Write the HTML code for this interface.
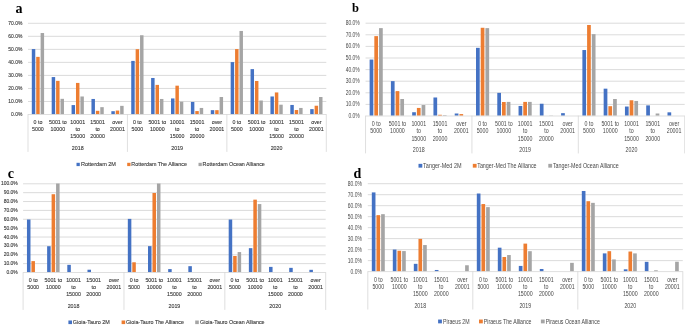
<!DOCTYPE html>
<html><head><meta charset="utf-8"><title>Chart</title>
<style>
html,body{margin:0;padding:0;background:#fff;}
body{width:685px;height:326px;overflow:hidden;}
svg{display:block;will-change:transform;}
.gr{stroke:#D4D4D4;stroke-width:0.85;}
.ax{stroke:#D4D4D4;stroke-width:0.75;}
text{font-family:"Liberation Sans",sans-serif;fill:#3a3a3a;}
.pA text{stroke:#3a3a3a;stroke-width:0.12px;}
.pB text{fill:#484848;}
.tk{font-size:5.3px;text-anchor:end;}
.ct{font-size:5.3px;text-anchor:middle;}
.lg{font-size:5.8px;}
g text.pl{font-family:"Liberation Serif",serif;font-weight:bold;font-size:12.5px;fill:#000;stroke:none;}
</style></head>
<body>
<svg width="685" height="326" viewBox="0 0 685 326">
<rect width="685" height="326" fill="#fff"/>
<g class="pA"><line x1="28" y1="101.47" x2="326.3" y2="101.47" class="gr"/>
<line x1="28" y1="88.44" x2="326.3" y2="88.44" class="gr"/>
<line x1="28" y1="75.41" x2="326.3" y2="75.41" class="gr"/>
<line x1="28" y1="62.39" x2="326.3" y2="62.39" class="gr"/>
<line x1="28" y1="49.36" x2="326.3" y2="49.36" class="gr"/>
<line x1="28" y1="36.33" x2="326.3" y2="36.33" class="gr"/>
<line x1="28" y1="23.3" x2="326.3" y2="23.3" class="gr"/>
<text x="22.4" y="116.1" class="tk" style="font-size:5.3px" textLength="11.35" lengthAdjust="spacingAndGlyphs">0.0%</text>
<text x="22.4" y="103.07" class="tk" style="font-size:5.3px" textLength="14.12" lengthAdjust="spacingAndGlyphs">10.0%</text>
<text x="22.4" y="90.04" class="tk" style="font-size:5.3px" textLength="14.12" lengthAdjust="spacingAndGlyphs">20.0%</text>
<text x="22.4" y="77.01" class="tk" style="font-size:5.3px" textLength="14.12" lengthAdjust="spacingAndGlyphs">30.0%</text>
<text x="22.4" y="63.98" class="tk" style="font-size:5.3px" textLength="14.12" lengthAdjust="spacingAndGlyphs">40.0%</text>
<text x="22.4" y="50.95" class="tk" style="font-size:5.3px" textLength="14.12" lengthAdjust="spacingAndGlyphs">50.0%</text>
<text x="22.4" y="37.93" class="tk" style="font-size:5.3px" textLength="14.12" lengthAdjust="spacingAndGlyphs">60.0%</text>
<text x="22.4" y="24.9" class="tk" style="font-size:5.3px" textLength="14.12" lengthAdjust="spacingAndGlyphs">70.0%</text>
<rect x="31.8" y="49.06" width="3.47" height="65.14" fill="#4472C4"/>
<rect x="36.21" y="56.87" width="3.47" height="57.33" fill="#ED7D31"/>
<rect x="40.62" y="33.03" width="3.47" height="81.17" fill="#A5A5A5"/>
<rect x="51.69" y="77.07" width="3.47" height="37.13" fill="#4472C4"/>
<rect x="56.09" y="80.85" width="3.47" height="33.35" fill="#ED7D31"/>
<rect x="60.5" y="98.83" width="3.47" height="15.37" fill="#A5A5A5"/>
<rect x="71.57" y="105.08" width="3.47" height="9.12" fill="#4472C4"/>
<rect x="75.98" y="82.93" width="3.47" height="31.27" fill="#ED7D31"/>
<rect x="80.39" y="96.48" width="3.47" height="17.72" fill="#A5A5A5"/>
<rect x="91.46" y="98.96" width="3.47" height="15.24" fill="#4472C4"/>
<rect x="95.87" y="110.81" width="3.47" height="3.39" fill="#ED7D31"/>
<rect x="100.28" y="107.16" width="3.47" height="7.04" fill="#A5A5A5"/>
<rect x="111.35" y="111.2" width="3.47" height="3" fill="#4472C4"/>
<rect x="115.75" y="110.55" width="3.47" height="3.65" fill="#ED7D31"/>
<rect x="120.16" y="105.86" width="3.47" height="8.34" fill="#A5A5A5"/>
<rect x="131.23" y="60.91" width="3.47" height="53.29" fill="#4472C4"/>
<rect x="135.64" y="49.19" width="3.47" height="65.01" fill="#ED7D31"/>
<rect x="140.05" y="35.25" width="3.47" height="78.95" fill="#A5A5A5"/>
<rect x="151.12" y="77.98" width="3.47" height="36.22" fill="#4472C4"/>
<rect x="155.53" y="84.89" width="3.47" height="29.31" fill="#ED7D31"/>
<rect x="159.94" y="98.96" width="3.47" height="15.24" fill="#A5A5A5"/>
<rect x="171.01" y="98.44" width="3.47" height="15.76" fill="#4472C4"/>
<rect x="175.41" y="85.67" width="3.47" height="28.53" fill="#ED7D31"/>
<rect x="179.82" y="101.69" width="3.47" height="12.51" fill="#A5A5A5"/>
<rect x="190.89" y="101.95" width="3.47" height="12.25" fill="#4472C4"/>
<rect x="195.3" y="111.07" width="3.47" height="3.13" fill="#ED7D31"/>
<rect x="199.71" y="107.95" width="3.47" height="6.25" fill="#A5A5A5"/>
<rect x="210.78" y="110.16" width="3.47" height="4.04" fill="#4472C4"/>
<rect x="215.19" y="110.16" width="3.47" height="4.04" fill="#ED7D31"/>
<rect x="219.6" y="97" width="3.47" height="17.2" fill="#A5A5A5"/>
<rect x="230.67" y="62.09" width="3.47" height="52.11" fill="#4472C4"/>
<rect x="235.07" y="49.06" width="3.47" height="65.14" fill="#ED7D31"/>
<rect x="239.48" y="30.95" width="3.47" height="83.25" fill="#A5A5A5"/>
<rect x="250.55" y="69.12" width="3.47" height="45.08" fill="#4472C4"/>
<rect x="254.96" y="80.98" width="3.47" height="33.22" fill="#ED7D31"/>
<rect x="259.37" y="100.52" width="3.47" height="13.68" fill="#A5A5A5"/>
<rect x="270.44" y="96.48" width="3.47" height="17.72" fill="#4472C4"/>
<rect x="274.85" y="92.44" width="3.47" height="21.76" fill="#ED7D31"/>
<rect x="279.26" y="104.69" width="3.47" height="9.51" fill="#A5A5A5"/>
<rect x="290.33" y="104.95" width="3.47" height="9.25" fill="#4472C4"/>
<rect x="294.73" y="110.03" width="3.47" height="4.17" fill="#ED7D31"/>
<rect x="299.14" y="107.95" width="3.47" height="6.25" fill="#A5A5A5"/>
<rect x="310.21" y="109.12" width="3.47" height="5.08" fill="#4472C4"/>
<rect x="314.62" y="105.73" width="3.47" height="8.47" fill="#ED7D31"/>
<rect x="319.03" y="97" width="3.47" height="17.2" fill="#A5A5A5"/>
<line x1="28" y1="114.5" x2="326.3" y2="114.5" class="ax"/>
<line x1="28" y1="114.2" x2="28" y2="151.9" class="ax"/>
<line x1="127.43" y1="114.2" x2="127.43" y2="151.9" class="ax"/>
<line x1="226.87" y1="114.2" x2="226.87" y2="151.9" class="ax"/>
<line x1="326.3" y1="114.2" x2="326.3" y2="151.9" class="ax"/>
<text x="37.94" y="124.1" class="ct">0 to</text>
<text x="37.94" y="130.8" class="ct">5000</text>
<text x="57.83" y="124.1" class="ct">5001 to</text>
<text x="57.83" y="130.8" class="ct">10000</text>
<text x="77.72" y="124.1" class="ct">10001</text>
<text x="77.72" y="130.8" class="ct">to</text>
<text x="77.72" y="137.6" class="ct">15000</text>
<text x="97.6" y="124.1" class="ct">15001</text>
<text x="97.6" y="130.8" class="ct">to</text>
<text x="97.6" y="137.6" class="ct">20000</text>
<text x="117.49" y="124.1" class="ct">over</text>
<text x="117.49" y="130.8" class="ct">20001</text>
<text x="137.38" y="124.1" class="ct">0 to</text>
<text x="137.38" y="130.8" class="ct">5000</text>
<text x="157.26" y="124.1" class="ct">5001 to</text>
<text x="157.26" y="130.8" class="ct">10000</text>
<text x="177.15" y="124.1" class="ct">10001</text>
<text x="177.15" y="130.8" class="ct">to</text>
<text x="177.15" y="137.6" class="ct">15000</text>
<text x="197.04" y="124.1" class="ct">15001</text>
<text x="197.04" y="130.8" class="ct">to</text>
<text x="197.04" y="137.6" class="ct">20000</text>
<text x="216.92" y="124.1" class="ct">over</text>
<text x="216.92" y="130.8" class="ct">20001</text>
<text x="236.81" y="124.1" class="ct">0 to</text>
<text x="236.81" y="130.8" class="ct">5000</text>
<text x="256.7" y="124.1" class="ct">5001 to</text>
<text x="256.7" y="130.8" class="ct">10000</text>
<text x="276.58" y="124.1" class="ct">10001</text>
<text x="276.58" y="130.8" class="ct">to</text>
<text x="276.58" y="137.6" class="ct">15000</text>
<text x="296.47" y="124.1" class="ct">15001</text>
<text x="296.47" y="130.8" class="ct">to</text>
<text x="296.47" y="137.6" class="ct">20000</text>
<text x="316.36" y="124.1" class="ct">over</text>
<text x="316.36" y="130.8" class="ct">20001</text>
<text x="77.72" y="149.8" class="ct">2018</text>
<text x="177.15" y="149.8" class="ct">2019</text>
<text x="276.58" y="149.8" class="ct">2020</text>
<rect x="76.5" y="162.8" width="3.3" height="3.3" fill="#4472C4"/>
<text x="80.9" y="166.08" class="lg" style="font-size:5.8px" textLength="35.1" lengthAdjust="spacingAndGlyphs">Rotterdam 2M</text>
<rect x="127.2" y="162.8" width="3.3" height="3.3" fill="#ED7D31"/>
<text x="131.3" y="166.08" class="lg" style="font-size:5.8px" textLength="55.7" lengthAdjust="spacingAndGlyphs">Rotterdam The Alliance</text>
<rect x="198.5" y="162.8" width="3.3" height="3.3" fill="#A5A5A5"/>
<text x="202.6" y="166.08" class="lg" style="font-size:5.8px" textLength="62.2" lengthAdjust="spacingAndGlyphs">Rotterdam Ocean Alliance</text>
<text x="15.5" y="12.5" class="pl" style="font-size:14px">a</text></g>
<g class="pB"><line x1="365.55" y1="104.4" x2="684.7" y2="104.4" class="gr"/>
<line x1="365.55" y1="92.8" x2="684.7" y2="92.8" class="gr"/>
<line x1="365.55" y1="81.2" x2="684.7" y2="81.2" class="gr"/>
<line x1="365.55" y1="69.6" x2="684.7" y2="69.6" class="gr"/>
<line x1="365.55" y1="58" x2="684.7" y2="58" class="gr"/>
<line x1="365.55" y1="46.4" x2="684.7" y2="46.4" class="gr"/>
<line x1="365.55" y1="34.8" x2="684.7" y2="34.8" class="gr"/>
<line x1="365.55" y1="23.2" x2="684.7" y2="23.2" class="gr"/>
<text x="359.8" y="117.99" class="tk" style="font-size:6.4px" textLength="11.35" lengthAdjust="spacingAndGlyphs">0.0%</text>
<text x="359.8" y="106.39" class="tk" style="font-size:6.4px" textLength="14.12" lengthAdjust="spacingAndGlyphs">10.0%</text>
<text x="359.8" y="94.79" class="tk" style="font-size:6.4px" textLength="14.12" lengthAdjust="spacingAndGlyphs">20.0%</text>
<text x="359.8" y="83.19" class="tk" style="font-size:6.4px" textLength="14.12" lengthAdjust="spacingAndGlyphs">30.0%</text>
<text x="359.8" y="71.59" class="tk" style="font-size:6.4px" textLength="14.12" lengthAdjust="spacingAndGlyphs">40.0%</text>
<text x="359.8" y="59.99" class="tk" style="font-size:6.4px" textLength="14.12" lengthAdjust="spacingAndGlyphs">50.0%</text>
<text x="359.8" y="48.39" class="tk" style="font-size:6.4px" textLength="14.12" lengthAdjust="spacingAndGlyphs">60.0%</text>
<text x="359.8" y="36.79" class="tk" style="font-size:6.4px" textLength="14.12" lengthAdjust="spacingAndGlyphs">70.0%</text>
<text x="359.8" y="25.19" class="tk" style="font-size:6.4px" textLength="14.12" lengthAdjust="spacingAndGlyphs">80.0%</text>
<rect x="369.62" y="59.56" width="3.71" height="56.14" fill="#4472C4"/>
<rect x="374.33" y="36.12" width="3.71" height="79.58" fill="#ED7D31"/>
<rect x="379.05" y="28.12" width="3.71" height="87.58" fill="#A5A5A5"/>
<rect x="390.89" y="81.13" width="3.71" height="34.57" fill="#4472C4"/>
<rect x="395.61" y="91.11" width="3.71" height="24.59" fill="#ED7D31"/>
<rect x="400.32" y="99" width="3.71" height="16.7" fill="#A5A5A5"/>
<rect x="412.17" y="112.22" width="3.71" height="3.48" fill="#4472C4"/>
<rect x="416.89" y="107.93" width="3.71" height="7.77" fill="#ED7D31"/>
<rect x="421.6" y="105.03" width="3.71" height="10.67" fill="#A5A5A5"/>
<rect x="433.45" y="97.49" width="3.71" height="18.21" fill="#4472C4"/>
<rect x="438.16" y="114.77" width="3.71" height="0.93" fill="#ED7D31"/>
<rect x="442.88" y="115.12" width="3.71" height="0.58" fill="#A5A5A5"/>
<rect x="454.72" y="113.5" width="3.71" height="2.2" fill="#4472C4"/>
<rect x="459.44" y="114.08" width="3.71" height="1.62" fill="#ED7D31"/>
<rect x="476" y="47.84" width="3.71" height="67.86" fill="#4472C4"/>
<rect x="480.72" y="27.77" width="3.71" height="87.93" fill="#ED7D31"/>
<rect x="485.43" y="28.12" width="3.71" height="87.58" fill="#A5A5A5"/>
<rect x="497.28" y="92.85" width="3.71" height="22.85" fill="#4472C4"/>
<rect x="501.99" y="102.01" width="3.71" height="13.69" fill="#ED7D31"/>
<rect x="506.71" y="101.9" width="3.71" height="13.8" fill="#A5A5A5"/>
<rect x="518.55" y="105.96" width="3.71" height="9.74" fill="#4472C4"/>
<rect x="523.27" y="101.9" width="3.71" height="13.8" fill="#ED7D31"/>
<rect x="527.98" y="101.9" width="3.71" height="13.8" fill="#A5A5A5"/>
<rect x="539.83" y="103.75" width="3.71" height="11.95" fill="#4472C4"/>
<rect x="549.26" y="115.47" width="3.71" height="0.23" fill="#A5A5A5"/>
<rect x="561.11" y="113.15" width="3.71" height="2.55" fill="#4472C4"/>
<rect x="582.38" y="50.04" width="3.71" height="65.66" fill="#4472C4"/>
<rect x="587.1" y="24.99" width="3.71" height="90.71" fill="#ED7D31"/>
<rect x="591.81" y="34.15" width="3.71" height="81.55" fill="#A5A5A5"/>
<rect x="603.66" y="88.67" width="3.71" height="27.03" fill="#4472C4"/>
<rect x="608.38" y="106.19" width="3.71" height="9.51" fill="#ED7D31"/>
<rect x="613.09" y="99" width="3.71" height="16.7" fill="#A5A5A5"/>
<rect x="624.94" y="106.54" width="3.71" height="9.16" fill="#4472C4"/>
<rect x="629.65" y="100.27" width="3.71" height="15.43" fill="#ED7D31"/>
<rect x="634.37" y="100.97" width="3.71" height="14.73" fill="#A5A5A5"/>
<rect x="646.21" y="105.38" width="3.71" height="10.32" fill="#4472C4"/>
<rect x="655.64" y="113.5" width="3.71" height="2.2" fill="#A5A5A5"/>
<rect x="667.49" y="112.34" width="3.71" height="3.36" fill="#4472C4"/>
<line x1="365.55" y1="116" x2="684.7" y2="116" class="ax"/>
<line x1="365.55" y1="115.7" x2="365.55" y2="153.4" class="ax"/>
<line x1="471.93" y1="115.7" x2="471.93" y2="153.4" class="ax"/>
<line x1="578.32" y1="115.7" x2="578.32" y2="153.4" class="ax"/>
<line x1="684.7" y1="115.7" x2="684.7" y2="153.4" class="ax"/>
<text x="376.19" y="125.59" class="ct" style="font-size:6.4px" textLength="8.84" lengthAdjust="spacingAndGlyphs">0 to</text>
<text x="376.19" y="132.99" class="ct" style="font-size:6.4px" textLength="11.79" lengthAdjust="spacingAndGlyphs">5000</text>
<text x="397.47" y="125.59" class="ct" style="font-size:6.4px" textLength="17.68" lengthAdjust="spacingAndGlyphs">5001 to</text>
<text x="397.47" y="132.99" class="ct" style="font-size:6.4px" textLength="14.73" lengthAdjust="spacingAndGlyphs">10000</text>
<text x="418.74" y="125.59" class="ct" style="font-size:6.4px" textLength="14.73" lengthAdjust="spacingAndGlyphs">10001</text>
<text x="418.74" y="132.99" class="ct" style="font-size:6.4px" textLength="4.42" lengthAdjust="spacingAndGlyphs">to</text>
<text x="418.74" y="140.59" class="ct" style="font-size:6.4px" textLength="14.73" lengthAdjust="spacingAndGlyphs">15000</text>
<text x="440.02" y="125.59" class="ct" style="font-size:6.4px" textLength="14.73" lengthAdjust="spacingAndGlyphs">15001</text>
<text x="440.02" y="132.99" class="ct" style="font-size:6.4px" textLength="4.42" lengthAdjust="spacingAndGlyphs">to</text>
<text x="440.02" y="140.59" class="ct" style="font-size:6.4px" textLength="14.73" lengthAdjust="spacingAndGlyphs">20000</text>
<text x="461.3" y="125.59" class="ct" style="font-size:6.4px" textLength="10.31" lengthAdjust="spacingAndGlyphs">over</text>
<text x="461.3" y="132.99" class="ct" style="font-size:6.4px" textLength="14.73" lengthAdjust="spacingAndGlyphs">20001</text>
<text x="482.57" y="125.59" class="ct" style="font-size:6.4px" textLength="8.84" lengthAdjust="spacingAndGlyphs">0 to</text>
<text x="482.57" y="132.99" class="ct" style="font-size:6.4px" textLength="11.79" lengthAdjust="spacingAndGlyphs">5000</text>
<text x="503.85" y="125.59" class="ct" style="font-size:6.4px" textLength="17.68" lengthAdjust="spacingAndGlyphs">5001 to</text>
<text x="503.85" y="132.99" class="ct" style="font-size:6.4px" textLength="14.73" lengthAdjust="spacingAndGlyphs">10000</text>
<text x="525.12" y="125.59" class="ct" style="font-size:6.4px" textLength="14.73" lengthAdjust="spacingAndGlyphs">10001</text>
<text x="525.12" y="132.99" class="ct" style="font-size:6.4px" textLength="4.42" lengthAdjust="spacingAndGlyphs">to</text>
<text x="525.12" y="140.59" class="ct" style="font-size:6.4px" textLength="14.73" lengthAdjust="spacingAndGlyphs">15000</text>
<text x="546.4" y="125.59" class="ct" style="font-size:6.4px" textLength="14.73" lengthAdjust="spacingAndGlyphs">15001</text>
<text x="546.4" y="132.99" class="ct" style="font-size:6.4px" textLength="4.42" lengthAdjust="spacingAndGlyphs">to</text>
<text x="546.4" y="140.59" class="ct" style="font-size:6.4px" textLength="14.73" lengthAdjust="spacingAndGlyphs">20000</text>
<text x="567.68" y="125.59" class="ct" style="font-size:6.4px" textLength="10.31" lengthAdjust="spacingAndGlyphs">over</text>
<text x="567.68" y="132.99" class="ct" style="font-size:6.4px" textLength="14.73" lengthAdjust="spacingAndGlyphs">20001</text>
<text x="588.96" y="125.59" class="ct" style="font-size:6.4px" textLength="8.84" lengthAdjust="spacingAndGlyphs">0 to</text>
<text x="588.96" y="132.99" class="ct" style="font-size:6.4px" textLength="11.79" lengthAdjust="spacingAndGlyphs">5000</text>
<text x="610.23" y="125.59" class="ct" style="font-size:6.4px" textLength="17.68" lengthAdjust="spacingAndGlyphs">5001 to</text>
<text x="610.23" y="132.99" class="ct" style="font-size:6.4px" textLength="14.73" lengthAdjust="spacingAndGlyphs">10000</text>
<text x="631.51" y="125.59" class="ct" style="font-size:6.4px" textLength="14.73" lengthAdjust="spacingAndGlyphs">10001</text>
<text x="631.51" y="132.99" class="ct" style="font-size:6.4px" textLength="4.42" lengthAdjust="spacingAndGlyphs">to</text>
<text x="631.51" y="140.59" class="ct" style="font-size:6.4px" textLength="14.73" lengthAdjust="spacingAndGlyphs">15000</text>
<text x="652.79" y="125.59" class="ct" style="font-size:6.4px" textLength="14.73" lengthAdjust="spacingAndGlyphs">15001</text>
<text x="652.79" y="132.99" class="ct" style="font-size:6.4px" textLength="4.42" lengthAdjust="spacingAndGlyphs">to</text>
<text x="652.79" y="140.59" class="ct" style="font-size:6.4px" textLength="14.73" lengthAdjust="spacingAndGlyphs">20000</text>
<text x="674.06" y="125.59" class="ct" style="font-size:6.4px" textLength="10.31" lengthAdjust="spacingAndGlyphs">over</text>
<text x="674.06" y="132.99" class="ct" style="font-size:6.4px" textLength="14.73" lengthAdjust="spacingAndGlyphs">20001</text>
<text x="418.74" y="151.59" class="ct" style="font-size:6.4px" textLength="11.79" lengthAdjust="spacingAndGlyphs">2018</text>
<text x="525.12" y="151.59" class="ct" style="font-size:6.4px" textLength="11.79" lengthAdjust="spacingAndGlyphs">2019</text>
<text x="631.51" y="151.59" class="ct" style="font-size:6.4px" textLength="11.79" lengthAdjust="spacingAndGlyphs">2020</text>
<rect x="418.5" y="163.85" width="3.8" height="3.8" fill="#4472C4"/>
<text x="423.1" y="167.89" class="lg" style="font-size:6.4px" textLength="38.5" lengthAdjust="spacingAndGlyphs">Tanger-Med 2M</text>
<rect x="472.8" y="163.85" width="3.8" height="3.8" fill="#ED7D31"/>
<text x="477.2" y="167.89" class="lg" style="font-size:6.4px" textLength="59.4" lengthAdjust="spacingAndGlyphs">Tanger-Med The Alliance</text>
<rect x="548.3" y="163.85" width="3.8" height="3.8" fill="#A5A5A5"/>
<text x="552.9" y="167.89" class="lg" style="font-size:6.4px" textLength="65.8" lengthAdjust="spacingAndGlyphs">Tanger-Med Ocean Alliance</text>
<text x="351.9" y="11.7" class="pl" style="font-size:12.5px">b</text></g>
<g class="pA"><line x1="23.1" y1="263.63" x2="325.7" y2="263.63" class="gr"/>
<line x1="23.1" y1="254.76" x2="325.7" y2="254.76" class="gr"/>
<line x1="23.1" y1="245.89" x2="325.7" y2="245.89" class="gr"/>
<line x1="23.1" y1="237.02" x2="325.7" y2="237.02" class="gr"/>
<line x1="23.1" y1="228.15" x2="325.7" y2="228.15" class="gr"/>
<line x1="23.1" y1="219.28" x2="325.7" y2="219.28" class="gr"/>
<line x1="23.1" y1="210.41" x2="325.7" y2="210.41" class="gr"/>
<line x1="23.1" y1="201.54" x2="325.7" y2="201.54" class="gr"/>
<line x1="23.1" y1="192.67" x2="325.7" y2="192.67" class="gr"/>
<line x1="23.1" y1="183.8" x2="325.7" y2="183.8" class="gr"/>
<text x="17.8" y="274.1" class="tk" style="font-size:5.3px" textLength="11.35" lengthAdjust="spacingAndGlyphs">0.0%</text>
<text x="17.8" y="265.23" class="tk" style="font-size:5.3px" textLength="14.12" lengthAdjust="spacingAndGlyphs">10.0%</text>
<text x="17.8" y="256.36" class="tk" style="font-size:5.3px" textLength="14.12" lengthAdjust="spacingAndGlyphs">20.0%</text>
<text x="17.8" y="247.49" class="tk" style="font-size:5.3px" textLength="14.12" lengthAdjust="spacingAndGlyphs">30.0%</text>
<text x="17.8" y="238.62" class="tk" style="font-size:5.3px" textLength="14.12" lengthAdjust="spacingAndGlyphs">40.0%</text>
<text x="17.8" y="229.75" class="tk" style="font-size:5.3px" textLength="14.12" lengthAdjust="spacingAndGlyphs">50.0%</text>
<text x="17.8" y="220.88" class="tk" style="font-size:5.3px" textLength="14.12" lengthAdjust="spacingAndGlyphs">60.0%</text>
<text x="17.8" y="212.01" class="tk" style="font-size:5.3px" textLength="14.12" lengthAdjust="spacingAndGlyphs">70.0%</text>
<text x="17.8" y="203.14" class="tk" style="font-size:5.3px" textLength="14.12" lengthAdjust="spacingAndGlyphs">80.0%</text>
<text x="17.8" y="194.27" class="tk" style="font-size:5.3px" textLength="14.12" lengthAdjust="spacingAndGlyphs">90.0%</text>
<text x="17.8" y="185.4" class="tk" style="font-size:5.3px" textLength="16.89" lengthAdjust="spacingAndGlyphs">100.0%</text>
<rect x="26.96" y="219.51" width="3.52" height="52.69" fill="#4472C4"/>
<rect x="31.43" y="261.11" width="3.52" height="11.09" fill="#ED7D31"/>
<rect x="47.13" y="246.21" width="3.52" height="25.99" fill="#4472C4"/>
<rect x="51.6" y="194.23" width="3.52" height="77.97" fill="#ED7D31"/>
<rect x="56.07" y="183.5" width="3.52" height="88.7" fill="#A5A5A5"/>
<rect x="67.3" y="264.84" width="3.52" height="7.36" fill="#4472C4"/>
<rect x="87.48" y="269.72" width="3.52" height="2.48" fill="#4472C4"/>
<rect x="127.82" y="218.89" width="3.52" height="53.31" fill="#4472C4"/>
<rect x="132.29" y="262.27" width="3.52" height="9.93" fill="#ED7D31"/>
<rect x="148" y="246.12" width="3.52" height="26.08" fill="#4472C4"/>
<rect x="152.47" y="192.99" width="3.52" height="79.21" fill="#ED7D31"/>
<rect x="156.94" y="183.5" width="3.52" height="88.7" fill="#A5A5A5"/>
<rect x="168.17" y="269.1" width="3.52" height="3.1" fill="#4472C4"/>
<rect x="188.34" y="266.17" width="3.52" height="6.03" fill="#4472C4"/>
<rect x="228.69" y="219.51" width="3.52" height="52.69" fill="#4472C4"/>
<rect x="233.16" y="255.97" width="3.52" height="16.23" fill="#ED7D31"/>
<rect x="237.63" y="252.07" width="3.52" height="20.13" fill="#A5A5A5"/>
<rect x="248.86" y="248.16" width="3.52" height="24.04" fill="#4472C4"/>
<rect x="253.33" y="199.64" width="3.52" height="72.56" fill="#ED7D31"/>
<rect x="257.8" y="204.08" width="3.52" height="68.12" fill="#A5A5A5"/>
<rect x="269.04" y="266.88" width="3.52" height="5.32" fill="#4472C4"/>
<rect x="289.21" y="267.85" width="3.52" height="4.35" fill="#4472C4"/>
<rect x="309.38" y="269.81" width="3.52" height="2.39" fill="#4472C4"/>
<line x1="23.1" y1="272.5" x2="325.7" y2="272.5" class="ax"/>
<line x1="23.1" y1="272.2" x2="23.1" y2="309.9" class="ax"/>
<line x1="123.97" y1="272.2" x2="123.97" y2="309.9" class="ax"/>
<line x1="224.83" y1="272.2" x2="224.83" y2="309.9" class="ax"/>
<line x1="325.7" y1="272.2" x2="325.7" y2="309.9" class="ax"/>
<text x="33.19" y="282" class="ct">0 to</text>
<text x="33.19" y="289" class="ct">5000</text>
<text x="53.36" y="282" class="ct">5001 to</text>
<text x="53.36" y="289" class="ct">10000</text>
<text x="73.53" y="282" class="ct">10001</text>
<text x="73.53" y="289" class="ct">to</text>
<text x="73.53" y="296.1" class="ct">15000</text>
<text x="93.71" y="282" class="ct">15001</text>
<text x="93.71" y="289" class="ct">to</text>
<text x="93.71" y="296.1" class="ct">20000</text>
<text x="113.88" y="282" class="ct">over</text>
<text x="113.88" y="289" class="ct">20001</text>
<text x="134.05" y="282" class="ct">0 to</text>
<text x="134.05" y="289" class="ct">5000</text>
<text x="154.23" y="282" class="ct">5001 to</text>
<text x="154.23" y="289" class="ct">10000</text>
<text x="174.4" y="282" class="ct">10001</text>
<text x="174.4" y="289" class="ct">to</text>
<text x="174.4" y="296.1" class="ct">15000</text>
<text x="194.57" y="282" class="ct">15001</text>
<text x="194.57" y="289" class="ct">to</text>
<text x="194.57" y="296.1" class="ct">20000</text>
<text x="214.75" y="282" class="ct">over</text>
<text x="214.75" y="289" class="ct">20001</text>
<text x="234.92" y="282" class="ct">0 to</text>
<text x="234.92" y="289" class="ct">5000</text>
<text x="255.09" y="282" class="ct">5001 to</text>
<text x="255.09" y="289" class="ct">10000</text>
<text x="275.27" y="282" class="ct">10001</text>
<text x="275.27" y="289" class="ct">to</text>
<text x="275.27" y="296.1" class="ct">15000</text>
<text x="295.44" y="282" class="ct">15001</text>
<text x="295.44" y="289" class="ct">to</text>
<text x="295.44" y="296.1" class="ct">20000</text>
<text x="315.61" y="282" class="ct">over</text>
<text x="315.61" y="289" class="ct">20001</text>
<text x="73.53" y="308" class="ct">2018</text>
<text x="174.4" y="308" class="ct">2019</text>
<text x="275.27" y="308" class="ct">2020</text>
<rect x="68.4" y="320.5" width="3.6" height="3.6" fill="#4472C4"/>
<text x="72.8" y="323.98" class="lg" style="font-size:5.8px" textLength="37" lengthAdjust="spacingAndGlyphs">Gioia-Tauro 2M</text>
<rect x="121.6" y="320.5" width="3.6" height="3.6" fill="#ED7D31"/>
<text x="125.9" y="323.98" class="lg" style="font-size:5.8px" textLength="58.1" lengthAdjust="spacingAndGlyphs">Gioia-Tauro The Alliance</text>
<rect x="195.2" y="320.5" width="3.6" height="3.6" fill="#A5A5A5"/>
<text x="200.1" y="323.98" class="lg" style="font-size:5.8px" textLength="64.4" lengthAdjust="spacingAndGlyphs">Gioia-Tauro Ocean Alliance</text>
<text x="7.7" y="177.6" class="pl" style="font-size:14px">c</text></g>
<g class="pB"><line x1="367.8" y1="260.61" x2="682.8" y2="260.61" class="gr"/>
<line x1="367.8" y1="249.63" x2="682.8" y2="249.63" class="gr"/>
<line x1="367.8" y1="238.64" x2="682.8" y2="238.64" class="gr"/>
<line x1="367.8" y1="227.65" x2="682.8" y2="227.65" class="gr"/>
<line x1="367.8" y1="216.66" x2="682.8" y2="216.66" class="gr"/>
<line x1="367.8" y1="205.68" x2="682.8" y2="205.68" class="gr"/>
<line x1="367.8" y1="194.69" x2="682.8" y2="194.69" class="gr"/>
<line x1="367.8" y1="183.7" x2="682.8" y2="183.7" class="gr"/>
<text x="361.9" y="273.59" class="tk" style="font-size:6.4px" textLength="11.35" lengthAdjust="spacingAndGlyphs">0.0%</text>
<text x="361.9" y="262.6" class="tk" style="font-size:6.4px" textLength="14.12" lengthAdjust="spacingAndGlyphs">10.0%</text>
<text x="361.9" y="251.62" class="tk" style="font-size:6.4px" textLength="14.12" lengthAdjust="spacingAndGlyphs">20.0%</text>
<text x="361.9" y="240.63" class="tk" style="font-size:6.4px" textLength="14.12" lengthAdjust="spacingAndGlyphs">30.0%</text>
<text x="361.9" y="229.64" class="tk" style="font-size:6.4px" textLength="14.12" lengthAdjust="spacingAndGlyphs">40.0%</text>
<text x="361.9" y="218.65" class="tk" style="font-size:6.4px" textLength="14.12" lengthAdjust="spacingAndGlyphs">50.0%</text>
<text x="361.9" y="207.67" class="tk" style="font-size:6.4px" textLength="14.12" lengthAdjust="spacingAndGlyphs">60.0%</text>
<text x="361.9" y="196.68" class="tk" style="font-size:6.4px" textLength="14.12" lengthAdjust="spacingAndGlyphs">70.0%</text>
<text x="361.9" y="185.69" class="tk" style="font-size:6.4px" textLength="14.12" lengthAdjust="spacingAndGlyphs">80.0%</text>
<rect x="371.81" y="192.41" width="3.66" height="78.89" fill="#4472C4"/>
<rect x="376.47" y="215.15" width="3.66" height="56.15" fill="#ED7D31"/>
<rect x="381.12" y="214.17" width="3.66" height="57.14" fill="#A5A5A5"/>
<rect x="392.81" y="249.54" width="3.66" height="21.76" fill="#4472C4"/>
<rect x="397.47" y="250.75" width="3.66" height="20.55" fill="#ED7D31"/>
<rect x="402.12" y="251.08" width="3.66" height="20.22" fill="#A5A5A5"/>
<rect x="413.81" y="263.83" width="3.66" height="7.47" fill="#4472C4"/>
<rect x="418.47" y="238.89" width="3.66" height="32.41" fill="#ED7D31"/>
<rect x="423.12" y="245.04" width="3.66" height="26.26" fill="#A5A5A5"/>
<rect x="434.81" y="269.98" width="3.66" height="1.32" fill="#4472C4"/>
<rect x="465.12" y="265.26" width="3.66" height="6.04" fill="#A5A5A5"/>
<rect x="476.81" y="193.51" width="3.66" height="77.79" fill="#4472C4"/>
<rect x="481.47" y="204.06" width="3.66" height="67.24" fill="#ED7D31"/>
<rect x="486.12" y="207.13" width="3.66" height="64.17" fill="#A5A5A5"/>
<rect x="497.81" y="247.68" width="3.66" height="23.62" fill="#4472C4"/>
<rect x="502.47" y="257.02" width="3.66" height="14.28" fill="#ED7D31"/>
<rect x="507.12" y="255.04" width="3.66" height="16.26" fill="#A5A5A5"/>
<rect x="518.81" y="265.92" width="3.66" height="5.38" fill="#4472C4"/>
<rect x="523.47" y="243.61" width="3.66" height="27.69" fill="#ED7D31"/>
<rect x="528.12" y="251.19" width="3.66" height="20.11" fill="#A5A5A5"/>
<rect x="539.81" y="268.99" width="3.66" height="2.31" fill="#4472C4"/>
<rect x="570.12" y="262.84" width="3.66" height="8.46" fill="#A5A5A5"/>
<rect x="581.81" y="190.98" width="3.66" height="80.32" fill="#4472C4"/>
<rect x="586.47" y="201.2" width="3.66" height="70.1" fill="#ED7D31"/>
<rect x="591.12" y="202.85" width="3.66" height="68.45" fill="#A5A5A5"/>
<rect x="602.81" y="253.39" width="3.66" height="17.91" fill="#4472C4"/>
<rect x="607.47" y="251.19" width="3.66" height="20.11" fill="#ED7D31"/>
<rect x="612.12" y="259.43" width="3.66" height="11.87" fill="#A5A5A5"/>
<rect x="623.81" y="269.32" width="3.66" height="1.98" fill="#4472C4"/>
<rect x="628.47" y="251.52" width="3.66" height="19.78" fill="#ED7D31"/>
<rect x="633.12" y="253.39" width="3.66" height="17.91" fill="#A5A5A5"/>
<rect x="644.81" y="261.85" width="3.66" height="9.45" fill="#4472C4"/>
<rect x="654.12" y="270.31" width="3.66" height="0.99" fill="#A5A5A5"/>
<rect x="675.12" y="261.74" width="3.66" height="9.56" fill="#A5A5A5"/>
<line x1="367.8" y1="271.6" x2="682.8" y2="271.6" class="ax"/>
<line x1="367.8" y1="271.3" x2="367.8" y2="309.5" class="ax"/>
<line x1="472.8" y1="271.3" x2="472.8" y2="309.5" class="ax"/>
<line x1="577.8" y1="271.3" x2="577.8" y2="309.5" class="ax"/>
<line x1="682.8" y1="271.3" x2="682.8" y2="309.5" class="ax"/>
<text x="378.3" y="281.79" class="ct" style="font-size:6.4px" textLength="8.84" lengthAdjust="spacingAndGlyphs">0 to</text>
<text x="378.3" y="288.99" class="ct" style="font-size:6.4px" textLength="11.79" lengthAdjust="spacingAndGlyphs">5000</text>
<text x="399.3" y="281.79" class="ct" style="font-size:6.4px" textLength="17.68" lengthAdjust="spacingAndGlyphs">5001 to</text>
<text x="399.3" y="288.99" class="ct" style="font-size:6.4px" textLength="14.73" lengthAdjust="spacingAndGlyphs">10000</text>
<text x="420.3" y="281.79" class="ct" style="font-size:6.4px" textLength="14.73" lengthAdjust="spacingAndGlyphs">10001</text>
<text x="420.3" y="288.99" class="ct" style="font-size:6.4px" textLength="4.42" lengthAdjust="spacingAndGlyphs">to</text>
<text x="420.3" y="295.99" class="ct" style="font-size:6.4px" textLength="14.73" lengthAdjust="spacingAndGlyphs">15000</text>
<text x="441.3" y="281.79" class="ct" style="font-size:6.4px" textLength="14.73" lengthAdjust="spacingAndGlyphs">15001</text>
<text x="441.3" y="288.99" class="ct" style="font-size:6.4px" textLength="4.42" lengthAdjust="spacingAndGlyphs">to</text>
<text x="441.3" y="295.99" class="ct" style="font-size:6.4px" textLength="14.73" lengthAdjust="spacingAndGlyphs">20000</text>
<text x="462.3" y="281.79" class="ct" style="font-size:6.4px" textLength="10.31" lengthAdjust="spacingAndGlyphs">over</text>
<text x="462.3" y="288.99" class="ct" style="font-size:6.4px" textLength="14.73" lengthAdjust="spacingAndGlyphs">20001</text>
<text x="483.3" y="281.79" class="ct" style="font-size:6.4px" textLength="8.84" lengthAdjust="spacingAndGlyphs">0 to</text>
<text x="483.3" y="288.99" class="ct" style="font-size:6.4px" textLength="11.79" lengthAdjust="spacingAndGlyphs">5000</text>
<text x="504.3" y="281.79" class="ct" style="font-size:6.4px" textLength="17.68" lengthAdjust="spacingAndGlyphs">5001 to</text>
<text x="504.3" y="288.99" class="ct" style="font-size:6.4px" textLength="14.73" lengthAdjust="spacingAndGlyphs">10000</text>
<text x="525.3" y="281.79" class="ct" style="font-size:6.4px" textLength="14.73" lengthAdjust="spacingAndGlyphs">10001</text>
<text x="525.3" y="288.99" class="ct" style="font-size:6.4px" textLength="4.42" lengthAdjust="spacingAndGlyphs">to</text>
<text x="525.3" y="295.99" class="ct" style="font-size:6.4px" textLength="14.73" lengthAdjust="spacingAndGlyphs">15000</text>
<text x="546.3" y="281.79" class="ct" style="font-size:6.4px" textLength="14.73" lengthAdjust="spacingAndGlyphs">15001</text>
<text x="546.3" y="288.99" class="ct" style="font-size:6.4px" textLength="4.42" lengthAdjust="spacingAndGlyphs">to</text>
<text x="546.3" y="295.99" class="ct" style="font-size:6.4px" textLength="14.73" lengthAdjust="spacingAndGlyphs">20000</text>
<text x="567.3" y="281.79" class="ct" style="font-size:6.4px" textLength="10.31" lengthAdjust="spacingAndGlyphs">over</text>
<text x="567.3" y="288.99" class="ct" style="font-size:6.4px" textLength="14.73" lengthAdjust="spacingAndGlyphs">20001</text>
<text x="588.3" y="281.79" class="ct" style="font-size:6.4px" textLength="8.84" lengthAdjust="spacingAndGlyphs">0 to</text>
<text x="588.3" y="288.99" class="ct" style="font-size:6.4px" textLength="11.79" lengthAdjust="spacingAndGlyphs">5000</text>
<text x="609.3" y="281.79" class="ct" style="font-size:6.4px" textLength="17.68" lengthAdjust="spacingAndGlyphs">5001 to</text>
<text x="609.3" y="288.99" class="ct" style="font-size:6.4px" textLength="14.73" lengthAdjust="spacingAndGlyphs">10000</text>
<text x="630.3" y="281.79" class="ct" style="font-size:6.4px" textLength="14.73" lengthAdjust="spacingAndGlyphs">10001</text>
<text x="630.3" y="288.99" class="ct" style="font-size:6.4px" textLength="4.42" lengthAdjust="spacingAndGlyphs">to</text>
<text x="630.3" y="295.99" class="ct" style="font-size:6.4px" textLength="14.73" lengthAdjust="spacingAndGlyphs">15000</text>
<text x="651.3" y="281.79" class="ct" style="font-size:6.4px" textLength="14.73" lengthAdjust="spacingAndGlyphs">15001</text>
<text x="651.3" y="288.99" class="ct" style="font-size:6.4px" textLength="4.42" lengthAdjust="spacingAndGlyphs">to</text>
<text x="651.3" y="295.99" class="ct" style="font-size:6.4px" textLength="14.73" lengthAdjust="spacingAndGlyphs">20000</text>
<text x="672.3" y="281.79" class="ct" style="font-size:6.4px" textLength="10.31" lengthAdjust="spacingAndGlyphs">over</text>
<text x="672.3" y="288.99" class="ct" style="font-size:6.4px" textLength="14.73" lengthAdjust="spacingAndGlyphs">20001</text>
<text x="420.3" y="307.89" class="ct" style="font-size:6.4px" textLength="11.79" lengthAdjust="spacingAndGlyphs">2018</text>
<text x="525.3" y="307.89" class="ct" style="font-size:6.4px" textLength="11.79" lengthAdjust="spacingAndGlyphs">2019</text>
<text x="630.3" y="307.89" class="ct" style="font-size:6.4px" textLength="11.79" lengthAdjust="spacingAndGlyphs">2020</text>
<rect x="438.1" y="319.55" width="3.8" height="3.8" fill="#4472C4"/>
<text x="443" y="323.59" class="lg" style="font-size:6.4px" textLength="26.5" lengthAdjust="spacingAndGlyphs">Piraeus 2M</text>
<rect x="479" y="319.55" width="3.8" height="3.8" fill="#ED7D31"/>
<text x="483.8" y="323.59" class="lg" style="font-size:6.4px" textLength="47.7" lengthAdjust="spacingAndGlyphs">Piraeus The Alliance</text>
<rect x="540.9" y="319.55" width="3.8" height="3.8" fill="#A5A5A5"/>
<text x="545.7" y="323.59" class="lg" style="font-size:6.4px" textLength="54.1" lengthAdjust="spacingAndGlyphs">Piraeus Ocean Alliance</text>
<text x="353.4" y="177.6" class="pl" style="font-size:14px">d</text></g>
</svg>
</body></html>
